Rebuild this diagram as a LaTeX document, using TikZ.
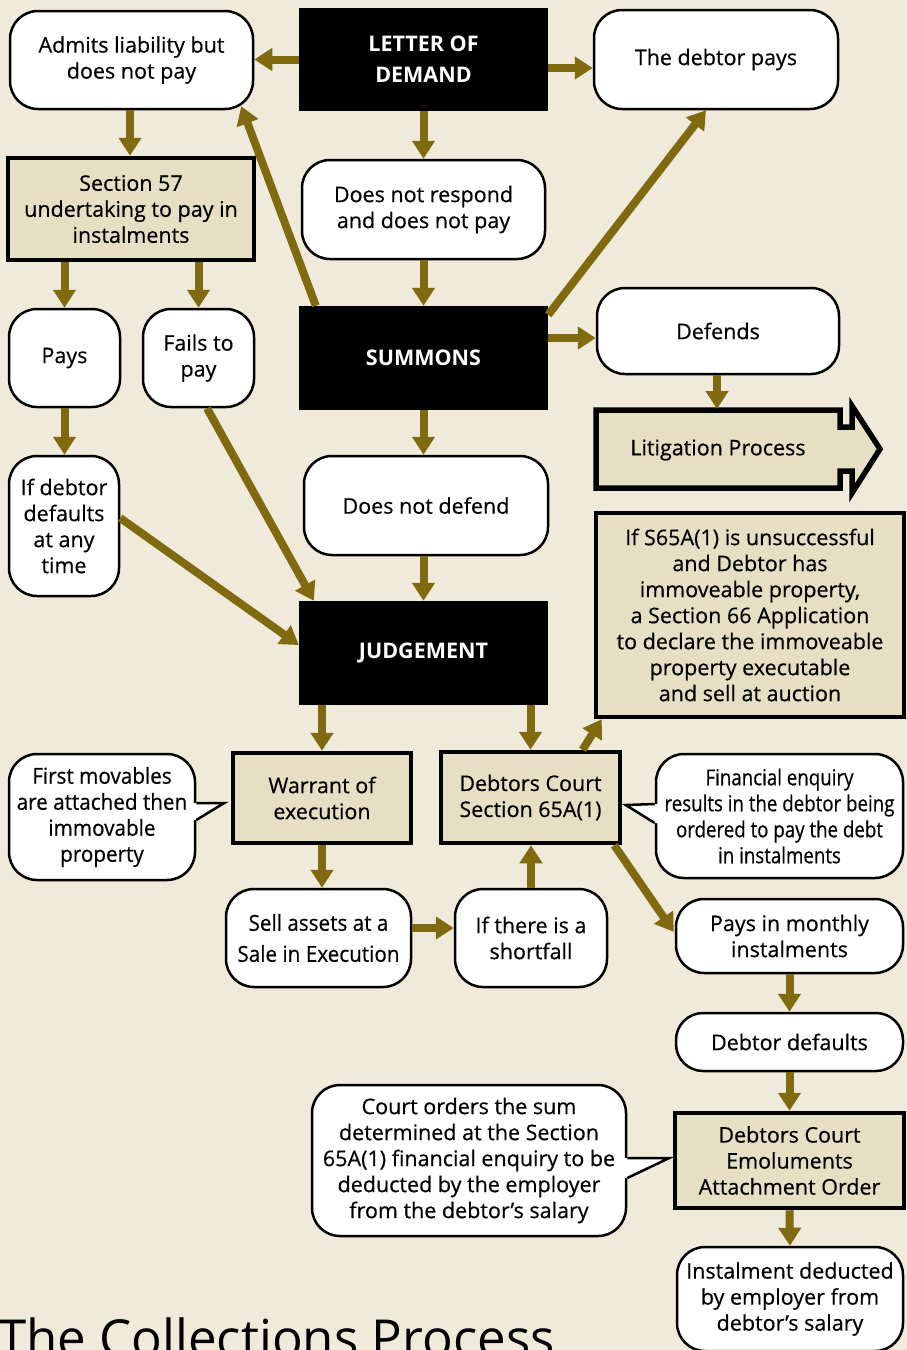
\documentclass[tikz,border=0pt]{standalone}
\usepackage{fontspec}
\setmainfont{Open Sans}[UprightFeatures={FakeBold=0.5}]
\newfontfamily\condA{Open Sans}[FakeStretch=0.85,FakeBold=0.5]
\newfontfamily\condB{Open Sans}[FakeStretch=0.94,FakeBold=0.5]
\newfontfamily\titlefont{Open Sans}
\usetikzlibrary{arrows.meta,calc}
\definecolor{bg}{RGB}{240,234,218}
\definecolor{tanfill}{RGB}{230,223,196}
\definecolor{olive}{RGB}{128,106,16}
\begin{document}
\begin{tikzpicture}[x=1pt,y=-1pt,
  sz/.style 2 args={minimum width=#1pt, minimum height=#2pt},
  txt/.style={font=\fontsize{21.5}{26}\selectfont},
  rbox/.style={draw=black, line width=2.5pt, fill=white, rounded corners=28pt, align=center, inner sep=0pt, txt},
  tbox/.style={draw=black, line width=4.5pt, fill=tanfill, align=center, inner sep=0pt, txt},
  bbox/.style={fill=black, text=white, align=center, inner sep=0pt, font=\bfseries\fontsize{21.5}{31}\selectfont},
  condtxt/.style={font=\condA\fontsize{22}{26}\selectfont},
  semicond/.style={font=\condB\fontsize{22}{26}\selectfont},
  arr/.style={draw=olive, line width=8pt, -{Triangle[width=22pt,length=18pt]}},
  ptr/.style={draw=black, line width=2.5pt, line join=miter},
]
\useasboundingbox (0,0) rectangle (907,1350);
\fill[bg] (0,0) rectangle (907,1350);

% title
\node[anchor=base west, inner sep=0pt, font=\titlefont\fontsize{51}{51}\selectfont] (title) at (-2,1356) {The Collections Process};

% nodes
\node[rbox, sz={243}{98}] (admits) at (131.5,60) {Admits liability but\\does not pay};
\node[bbox, sz={249}{103}] (lod) at (423.5,59.5) {LETTER OF\\DEMAND};
\node[rbox, sz={244}{99}] (paid) at (716,59.5) {The debtor pays};
\node[tbox, sz={246}{102}] (s57) at (131,209) {Section 57\\undertaking to pay in\\instalments};
\node[rbox, sz={243}{99}] (dnr) at (423.5,209.5) {Does not respond\\and does not pay};
\node[rbox, sz={111}{98}] (pays) at (64.5,358) {Pays};
\node[rbox, sz={111}{98}] (fails) at (198.5,358) {Fails to\\pay};
\node[bbox, sz={249}{104}] (summons) at (423.5,358) {SUMMONS};
\node[rbox, sz={242}{86}] (defends) at (718,331) {Defends};

% litigation process arrow shape
\draw[draw=black, fill=tanfill, line width=5.5pt, line join=miter]
  (596,410) -- (840,410) -- (840,427) -- (852,427) -- (852,406) -- (880,449)
  -- (852,493) -- (852,471) -- (840,471) -- (840,488) -- (596,488) -- cycle;
\node[txt, inner sep=0pt] (litig) at (718,450) {Litigation Process};
\coordinate (littop) at (717,409);

\node[rbox, sz={244}{99}] (dnd) at (426,505.5) {Does not defend};
\node[tbox, sz={308}{204}] (s66) at (750,615) {If S65A(1) is unsuccessful\\and Debtor has\\immoveable property,\\a Section 66 Application\\to declare the immoveable\\property executable\\and sell at auction};
\node[rbox, sz={110}{140}] (defaults) at (64,526) {If debtor\\defaults\\at any\\time};
\node[bbox, sz={249}{104}] (judg) at (423.5,653) {JUDGEMENT};
\node[rbox, sz={186}{126}, semicond] (movables) at (102,817) {First movables\\are attached then\\immovable\\property};
\node[tbox, sz={178}{90}] (warrant) at (322,798) {Warrant of\\execution};
\node[tbox, sz={179}{91}] (dc) at (530.5,797.5) {Debtors Court\\Section 65A(1)};
\node[rbox, sz={247}{124}, condtxt] (fin) at (779.5,816) {Financial enquiry\\results in the debtor being\\ordered to pay the debt\\in instalments};
\node[rbox, sz={185}{98}, font=\condB\fontsize{22}{31}\selectfont] (sell) at (318.5,938) {Sell assets at a\\Sale in Execution};
\node[rbox, sz={152}{98}] (short) at (531,938) {If there is a\\shortfall};
\node[rbox, sz={227}{74}] (monthly) at (789.5,936) {Pays in monthly\\instalments};
\node[rbox, sz={227}{58}, rounded corners=27pt] (ddef) at (789.5,1042) {Debtor defaults};
\node[rbox, sz={314}{151}] (court) at (469,1160.5) {Court orders the sum\\determined at the Section\\65A(1) financial enquiry to be\\deducted by the employer\\from the debtor’s salary};
\node[tbox, sz={229}{95}] (eao) at (789.5,1160.5) {Debtors Court\\Emoluments\\Attachment Order};
\node[rbox, sz={226}{104}] (inst) at (790,1299) {Instalment deducted\\by employer from\\debtor’s salary};

% callout pointers
\coordinate (m1) at ($(movables.east)+(0,-14)$);
\coordinate (mt) at ($(movables.east)+(28,-14)$);
\coordinate (m2) at ($(movables.east)+(0,3)$);
\fill[white] ($(m1)+(-4,0)$) -- (m1) -- (mt) -- (m2) -- ($(m2)+(-4,0)$) -- cycle;
\draw[ptr] (m1) -- (mt) -- (m2);

\coordinate (f1) at ($(fin.west)+(0,-12)$);
\coordinate (ft) at ($(fin.west)+(-29,-11)$);
\coordinate (f2) at ($(fin.west)+(0,7)$);
\fill[white] ($(f1)+(4,0)$) -- (f1) -- (ft) -- (f2) -- ($(f2)+(4,0)$) -- cycle;
\draw[ptr] (f1) -- (ft) -- (f2);

\coordinate (c1) at ($(court.east)+(0,-2.5)$);
\coordinate (ct) at ($(court.east)+(42,-2.5)$);
\coordinate (c2) at ($(court.east)+(0,17.5)$);
\fill[white] ($(c1)+(-4,0)$) -- (c1) -- (ct) -- (c2) -- ($(c2)+(-4,0)$) -- cycle;
\draw[ptr] (c1) -- (ct) -- (c2);

% connectors
\draw[arr] (lod.west) -- (admits.east |- lod.west);
\draw[arr] (lod.east |- 0,68) -- (paid.west |- 0,68);
\draw[arr] (lod.south) -- (dnr.north);
\draw[arr] (admits.south -| 130,0) -- (s57.north -| 130,0);
\draw[arr] (dnr.south) -- (summons.north);
\draw[arr] ($(summons.north west)+(17,0)$) -- ($(admits.south east)+(-13,-4)$);
\draw[arr] ($(summons.north east)+(0,9)$) -- ($(paid.south)+(-10,0)$);
\draw[arr] (summons.east |- 0,338) -- (defends.west |- 0,338);
\draw[arr] (defends.south -| littop) -- (littop);
\draw[arr] (s57.south -| pays.north) -- (pays.north);
\draw[arr] (s57.south -| fails.north) -- (fails.north);
\draw[arr] (pays.south) -- (defaults.north -| pays.south);
\draw[arr] ($(fails.south)+(8.5,0)$) -- ($(judg.north west)+(15,0)$);
\draw[arr] ($(defaults.east)+(0,-8)$) -- ($(judg.west)+(0,-8)$);
\draw[arr] (summons.south) -- (dnd.north -| summons.south);
\draw[arr] (dnd.south -| judg.north) -- (judg.north);
\draw[arr] (judg.south -| warrant.north) -- (warrant.north);
\draw[arr] (judg.south -| dc.north) -- (dc.north);
\draw[arr] ($(dc.north)+(52,0)$) -- ($(s66.south west)+(8,0)$);
\draw[arr] (warrant.south) -- (sell.north -| warrant.south);
\draw[arr] (sell.east |- 0,928) -- (short.west |- 0,928);
\draw[arr] (short.north) -- (dc.south -| short.north);
\draw[arr] ($(dc.south east)+(-8,0)$) -- ($(monthly.west)+(-1,-4)$);
\draw[arr] (monthly.south) -- (ddef.north);
\draw[arr] (ddef.south) -- (eao.north);
\draw[arr] (eao.south) -- (inst.north);
\end{tikzpicture}
\end{document}
